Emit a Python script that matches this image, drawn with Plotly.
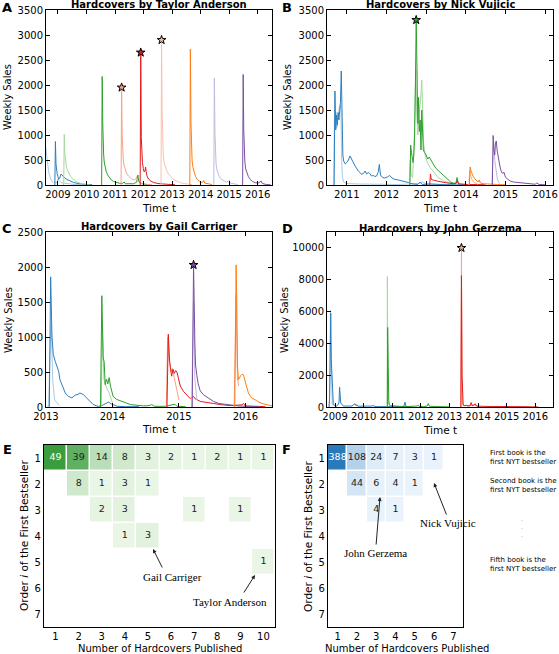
import plotly.graph_objects as go

W, H = 559, 654

# ---------------- Panel A: Taylor Anderson (time, weekly sales) ----------------
A_b1 = [(2008.50,0),(2008.52,1100),(2008.55,850),(2008.58,680),(2008.61,520),(2008.64,380),(2008.67,280),(2008.70,200),(2008.73,140),(2008.76,100),(2008.80,70),(2008.84,50),(2008.88,60),(2008.92,40),(2008.96,50),(2009.00,120),(2009.03,90),(2009.08,60),(2009.15,40),(2009.25,30),(2009.40,20),(2009.60,10),(2009.80,5)]
A_b2 = [(2008.89,0),(2008.91,870),(2008.93,420),(2008.95,280),(2008.97,230),(2009.00,170),(2009.02,110),(2009.05,130),(2009.08,180),(2009.11,220),(2009.14,200),(2009.18,170),(2009.24,140),(2009.32,110),(2009.42,80),(2009.55,50),(2009.70,30),(2009.85,15),(2010.00,8),(2010.20,5)]
A_b3 = [(2009.20,0),(2009.22,1010),(2009.24,620),(2009.26,470),(2009.29,380),(2009.33,300),(2009.38,230),(2009.44,170),(2009.50,130),(2009.58,90),(2009.66,60),(2009.76,40),(2009.88,20),(2010.00,10),(2010.10,5)]
A_b4 = [(2010.53,0),(2010.55,2170),(2010.57,1200),(2010.58,800),(2010.60,620),(2010.62,460),(2010.65,350),(2010.69,270),(2010.74,200),(2010.80,140),(2010.87,100),(2010.95,70),(2011.05,50),(2011.15,35),(2011.25,30),(2011.32,60),(2011.36,25),(2011.50,20),(2011.65,25),(2011.76,60),(2011.80,200),(2011.83,80),(2011.90,30),(2012.05,15),(2012.20,5)]
A_b5 = [(2011.21,0),(2011.23,1950),(2011.25,1000),(2011.27,650),(2011.29,480),(2011.32,380),(2011.36,300),(2011.41,230),(2011.47,180),(2011.54,140),(2011.61,110),(2011.68,100),(2011.73,130),(2011.76,170),(2011.79,90),(2011.86,50),(2011.95,30),(2012.10,15),(2012.30,5)]
A_b6 = [(2011.88,0),(2011.90,2650),(2011.92,950),(2011.94,620),(2011.96,450),(2011.99,330),(2012.02,260),(2012.05,280),(2012.07,360),(2012.09,270),(2012.12,180),(2012.17,120),(2012.25,80),(2012.35,50),(2012.50,30),(2012.70,20),(2012.90,10),(2013.10,5)]
A_b7 = [(2012.61,0),(2012.63,2900),(2012.65,1450),(2012.67,850),(2012.69,600),(2012.72,450),(2012.76,360),(2012.81,290),(2012.87,220),(2012.94,170),(2013.02,130),(2013.10,95),(2013.20,65),(2013.30,45),(2013.42,30),(2013.55,15),(2013.70,5)]
A_b8 = [(2013.62,0),(2013.64,2720),(2013.66,1250),(2013.68,700),(2013.70,480),(2013.73,350),(2013.77,250),(2013.82,170),(2013.88,110),(2013.95,70),(2014.02,50),(2014.08,60),(2014.11,90),(2014.14,40),(2014.25,20),(2014.40,8)]
A_b9 = [(2014.46,0),(2014.48,2140),(2014.50,1050),(2014.52,620),(2014.54,420),(2014.57,300),(2014.61,220),(2014.66,160),(2014.73,110),(2014.82,80),(2014.90,60),(2014.97,70),(2015.00,90),(2015.03,40),(2015.15,20),(2015.30,8)]
A_b10 = [(2015.47,0),(2015.49,2210),(2015.51,1100),(2015.53,650),(2015.55,450),(2015.58,320),(2015.62,230),(2015.67,170),(2015.74,110),(2015.82,70),(2015.92,45),(2016.02,40),(2016.08,60),(2016.12,80),(2016.16,30),(2016.30,10),(2016.45,5)]
A_star_books = [5, 6, 7]

# ---------------- Panel B: Nick Vujicic ----------------
B_b1p = [(2010.67,0),(2010.69,1500),(2010.71,1350),(2010.73,1450),(2010.75,1150),(2010.77,1300),(2010.80,1500),(2010.83,1600),(2010.85,1500),(2010.87,500),(2010.89,150),(2010.92,60),(2011.00,30),(2011.30,20),(2011.80,15),(2012.30,10),(2012.80,30),(2012.90,60),(2013.00,20),(2013.30,10),(2013.60,5)]
B_b1 = [(2010.68,0),(2010.70,1880),(2010.72,1100),(2010.74,1400),(2010.76,1200),(2010.78,1450),(2010.80,1300),(2010.82,1500),(2010.84,1650),(2010.86,2280),(2010.88,1200),(2010.90,600),(2010.92,480),(2010.96,420),(2011.00,450),(2011.04,500),(2011.08,580),(2011.12,500),(2011.17,440),(2011.21,380),(2011.25,320),(2011.29,280),(2011.33,250),(2011.37,213),(2011.42,230),(2011.46,280),(2011.50,220),(2011.54,250),(2011.58,230),(2011.62,180),(2011.67,190),(2011.71,170),(2011.75,180),(2011.79,250),(2011.82,410),(2011.85,200),(2011.90,150),(2011.96,140),(2012.02,160),(2012.08,190),(2012.14,140),(2012.21,113),(2012.30,100),(2012.40,80),(2012.46,80),(2012.55,50),(2012.62,27),(2012.70,15),(2012.79,10),(2012.85,60),(2012.90,10),(2013.10,20),(2013.30,10),(2013.50,5),(2013.80,5),(2014.00,10)]
B_b2p = [(2012.58,0),(2012.60,500),(2012.62,200),(2012.66,150),(2012.70,900),(2012.72,1430),(2012.74,2300),(2012.76,1500),(2012.79,1000),(2012.82,1400),(2012.86,1700),(2012.89,2100),(2012.91,1300),(2012.94,800),(2012.98,600),(2013.03,450),(2013.10,350),(2013.20,250),(2013.30,150),(2013.45,80),(2013.60,40),(2013.80,20)]
B_b2 = [(2012.59,0),(2012.61,800),(2012.63,650),(2012.65,500),(2012.67,450),(2012.69,600),(2012.71,1000),(2012.73,2000),(2012.75,3300),(2012.77,2300),(2012.79,1230),(2012.81,1750),(2012.83,1070),(2012.85,1300),(2012.87,700),(2012.89,1500),(2012.91,1100),(2012.93,700),(2012.96,650),(2013.00,600),(2013.04,520),(2013.08,560),(2013.12,500),(2013.17,420),(2013.21,380),(2013.25,330),(2013.29,300),(2013.33,280),(2013.37,250),(2013.42,220),(2013.46,180),(2013.50,150),(2013.54,110),(2013.58,90),(2013.62,60),(2013.68,40),(2013.75,30),(2013.78,150),(2013.80,40),(2013.85,10)]
B_b3 = [(2013.09,0),(2013.11,220),(2013.13,110),(2013.17,95),(2013.22,90),(2013.30,75),(2013.40,55),(2013.50,45),(2013.60,35),(2013.70,25),(2013.76,40),(2013.79,90),(2013.82,25),(2013.90,15),(2014.05,10),(2014.30,8),(2014.50,5)]
B_b4p = [(2014.08,0),(2014.10,300),(2014.12,200),(2014.15,120),(2014.20,60),(2014.30,20)]
B_b4 = [(2014.09,0),(2014.11,360),(2014.13,290),(2014.15,230),(2014.18,180),(2014.22,130),(2014.27,90),(2014.31,60),(2014.34,100),(2014.37,40),(2014.45,25),(2014.60,15),(2014.80,10),(2015.00,5)]
B_b5p = [(2014.66,0),(2014.68,750),(2014.70,850),(2014.73,500),(2014.76,300),(2014.80,100),(2014.85,30)]
B_b5 = [(2014.67,0),(2014.69,990),(2014.71,700),(2014.73,600),(2014.75,850),(2014.77,880),(2014.79,700),(2014.81,580),(2014.84,450),(2014.86,380),(2014.90,260),(2014.93,230),(2014.96,260),(2015.00,160),(2015.05,120),(2015.12,80),(2015.20,60),(2015.30,50),(2015.45,40),(2015.60,25),(2015.75,15),(2015.79,40),(2015.85,10),(2016.00,5)]
B_star_book = "B_b2"

# ---------------- Panel C: Gail Carriger ----------------
C_b1p = [(2013.03,0),(2013.04,50),(2013.06,800),(2013.08,1200),(2013.10,400),(2013.13,100),(2013.20,20)]
C_b1 = [(2013.05,0),(2013.07,1860),(2013.09,1000),(2013.11,750),(2013.14,650),(2013.16,600),(2013.19,510),(2013.21,390),(2013.24,320),(2013.26,250),(2013.29,200),(2013.34,150),(2013.39,130),(2013.44,170),(2013.48,180),(2013.51,200),(2013.56,180),(2013.61,130),(2013.66,80),(2013.71,35),(2013.76,15),(2013.79,10),(2013.84,20),(2013.90,50),(2013.94,70),(2013.99,40),(2014.07,10),(2014.20,5),(2014.40,5)]
C_b2p = [(2013.83,0),(2013.85,1130),(2013.87,400),(2013.90,300),(2013.95,200),(2014.00,60)]
C_b2 = [(2013.82,0),(2013.84,1590),(2013.86,700),(2013.875,650),(2013.89,320),(2013.91,400),(2013.93,330),(2013.95,420),(2013.97,300),(2013.99,220),(2014.01,150),(2014.06,110),(2014.14,80),(2014.19,70),(2014.27,35),(2014.37,25),(2014.47,15),(2014.55,20),(2014.59,35),(2014.63,10),(2014.80,10),(2014.94,40),(2014.97,10),(2015.10,5)]
C_b3p = [(2014.81,0),(2014.83,1000),(2014.85,700),(2014.88,500),(2014.90,550),(2014.93,400),(2014.97,250),(2015.00,100)]
C_b3 = [(2014.82,0),(2014.84,1040),(2014.86,650),(2014.87,560),(2014.89,440),(2014.91,540),(2014.93,480),(2014.95,520),(2014.97,500),(2014.99,420),(2015.02,300),(2015.07,220),(2015.12,170),(2015.17,120),(2015.22,150),(2015.24,120),(2015.32,80),(2015.42,60),(2015.52,50),(2015.62,35),(2015.77,20),(2015.95,30),(2015.97,50),(2016.00,15),(2016.10,10),(2016.30,5)]
C_b4p = [(2015.19,0),(2015.205,900),(2015.22,1500),(2015.24,400),(2015.27,100)]
C_b4 = [(2015.20,0),(2015.22,2030),(2015.24,900),(2015.25,600),(2015.27,450),(2015.29,330),(2015.32,230),(2015.37,175),(2015.44,130),(2015.52,80),(2015.60,50),(2015.75,30),(2015.90,15),(2016.00,10),(2016.20,5)]
C_b5p = [(2015.83,0),(2015.85,1200),(2015.86,1600),(2015.87,1000),(2015.88,400),(2015.90,300)]
C_b5 = [(2015.84,0),(2015.86,2030),(2015.87,1500),(2015.88,600),(2015.895,390),(2015.91,420),(2015.93,450),(2015.95,470),(2015.97,460),(2015.995,370),(2016.02,280),(2016.045,200),(2016.07,160),(2016.095,130),(2016.17,90),(2016.22,60),(2016.27,45),(2016.32,35),(2016.37,20),(2016.40,15)]
C_star_book = "C_b4"

# ---------------- Panel D: John Gerzema ----------------
D_b1p = [(2008.80,0),(2008.82,1500),(2008.84,6100),(2008.86,3000),(2008.88,800),(2008.90,200),(2008.95,50)]
D_b1 = [(2008.79,0),(2008.81,500),(2008.83,3000),(2008.85,5900),(2008.86,4000),(2008.87,2970),(2008.89,1900),(2008.90,1730),(2008.92,700),(2008.94,200),(2008.99,80),(2009.05,60),(2009.11,150),(2009.14,300),(2009.16,1250),(2009.18,400),(2009.20,250),(2009.29,60),(2009.45,40),(2009.60,60),(2009.64,150),(2009.70,200),(2009.74,80),(2009.76,150),(2009.80,50),(2010.05,40),(2010.30,60),(2010.34,120),(2010.37,40),(2010.50,20),(2010.80,10),(2011.00,20),(2011.40,30),(2011.45,300),(2011.48,30),(2011.70,10)]
D_b2p = [(2010.82,0),(2010.83,8200),(2010.85,1000),(2010.87,200),(2010.92,50)]
D_b2 = [(2010.83,0),(2010.84,5000),(2010.86,2500),(2010.88,400),(2010.90,150),(2010.95,80),(2011.10,50),(2011.30,40),(2011.50,30),(2011.70,40),(2011.88,60),(2011.91,120),(2011.94,40),(2012.10,30),(2012.22,60),(2012.26,220),(2012.30,50),(2012.50,30),(2012.80,20),(2013.00,10)]
D_b3p = [(2013.40,0),(2013.41,3000),(2013.42,10000),(2013.44,1000),(2013.46,200),(2013.50,100),(2013.70,80),(2013.90,150),(2014.00,40)]
D_b3 = [(2013.40,0),(2013.42,8260),(2013.44,2000),(2013.46,300),(2013.48,120),(2013.52,80),(2013.60,100),(2013.65,60),(2013.72,80),(2013.76,280),(2013.80,80),(2013.86,120),(2013.90,200),(2013.94,60),(2014.00,50),(2014.20,40),(2014.50,30),(2014.80,40),(2015.00,30),(2015.30,20),(2015.60,20),(2015.90,10),(2016.10,5)]
D_star_book = "D_b3p"

# ---------------- Panels E/F: heatmaps (rows: order i, cols: hardcovers n) ----------------
E_n = [1, 2, 3, 4, 5, 6, 7, 8, 9, 10]
E_i = [1, 2, 3, 4, 5, 6, 7]
E_z = [
    [49, 39, 14, 8, 3, 2, 1, 2, 1, 1],
    [None, 8, 1, 3, 1, None, None, None, None, None],
    [None, None, 2, 3, None, None, 1, None, 1, None],
    [None, None, None, 1, 3, None, None, None, None, None],
    [None, None, None, None, None, None, None, None, None, 1],
    [None] * 10,
    [None] * 10,
]
F_n = [1, 2, 3, 4, 5, 6, 7]
F_i = [1, 2, 3, 4, 5, 6, 7]
F_z = [
    [388, 108, 24, 7, 3, 1, None],
    [None, 44, 6, 4, 1, None, None],
    [None, None, 4, 1, None, None, None],
    [None] * 7,
    [None] * 7,
    [None] * 7,
    [None] * 7,
]
F_side = ["First book is the<br>first NYT bestseller",
          "Second book is the<br>first NYT bestseller",
          "Fifth book is the<br>first NYT bestseller"]

# ---------------- styles ----------------
LBLUE, BLUE = '#a9cbe6', '#2e7ebc'
LGREEN, GREEN = '#a6d99c', '#2ca02c'
LSAL, SAL, RED = '#fbc0ad', '#f7a386', '#e41a1c'
LORANGE, ORANGE = '#fdb383', '#fd7e14'
LPURPLE, PURPLE = '#bcbddc', '#7a4ea3'

def px(x):
    return x / W

def py(y):
    return 1 - y / H

FONT = "DejaVu Sans"
fig = go.Figure()

panels = {
    'A': dict(ax='', series=[('A_b1', A_b1, LBLUE), ('A_b2', A_b2, BLUE), ('A_b3', A_b3, LGREEN), ('A_b4', A_b4, GREEN),
                             ('A_b5', A_b5, SAL), ('A_b6', A_b6, RED), ('A_b7', A_b7, LSAL), ('A_b8', A_b8, ORANGE),
                             ('A_b9', A_b9, LPURPLE), ('A_b10', A_b10, PURPLE)],
              stars=['A_b%d' % k for k in A_star_books]),
    'B': dict(ax='2', series=[('B_b1p', B_b1p, LBLUE), ('B_b1', B_b1, BLUE), ('B_b2p', B_b2p, LGREEN), ('B_b2', B_b2, GREEN),
                              ('B_b3', B_b3, RED), ('B_b4p', B_b4p, LORANGE), ('B_b4', B_b4, ORANGE),
                              ('B_b5p', B_b5p, LPURPLE), ('B_b5', B_b5, PURPLE)],
              stars=[B_star_book]),
    'C': dict(ax='3', series=[('C_b1p', C_b1p, LBLUE), ('C_b1', C_b1, BLUE), ('C_b2p', C_b2p, LGREEN), ('C_b2', C_b2, GREEN),
                              ('C_b3p', C_b3p, SAL), ('C_b3', C_b3, RED), ('C_b4p', C_b4p, LPURPLE), ('C_b4', C_b4, PURPLE),
                              ('C_b5p', C_b5p, SAL), ('C_b5', C_b5, ORANGE)],
              stars=[C_star_book]),
    'D': dict(ax='4', series=[('D_b1p', D_b1p, LBLUE), ('D_b1', D_b1, BLUE), ('D_b2p', D_b2p, LGREEN), ('D_b2', D_b2, GREEN),
                              ('D_b3p', D_b3p, SAL), ('D_b3', D_b3, RED)],
              stars=[D_star_book]),
}

for key, p in panels.items():
    lookup = {}
    for name, s, col in p['series']:
        lookup[name] = (s, col)
        fig.add_trace(go.Scatter(x=[q[0] for q in s], y=[q[1] for q in s], mode='lines',
                                 line=dict(color=col, width=1), hoverinfo='skip', showlegend=False,
                                 xaxis='x' + p['ax'], yaxis='y' + p['ax']))
    for name in p['stars']:
        s, col = lookup[name]
        peak = max(s, key=lambda q: q[1])
        fig.add_trace(go.Scatter(x=[peak[0]], y=[peak[1]], mode='markers',
                                 marker=dict(symbol='star', size=6.5, color=col, line=dict(color='black', width=1)),
                                 hoverinfo='skip', showlegend=False, xaxis='x' + p['ax'], yaxis='y' + p['ax']))

# heatmaps
def add_heat(z, xs, ys, ax, cs, zmax):
    fig.add_trace(go.Heatmap(z=z, x=xs, y=ys, colorscale=cs, zmin=0, zmax=zmax, showscale=False,
                             xgap=1.5, ygap=1.5, hoverinfo='skip', xaxis='x' + ax, yaxis='y' + ax))
    tx, ty, tt, tc = [], [], [], []
    for r, row in enumerate(z):
        for c, v in enumerate(row):
            if v is not None:
                tx.append(xs[c]); ty.append(ys[r]); tt.append(str(v))
                tc.append('white' if v == zmax else '#222222')
    fig.add_trace(go.Scatter(x=tx, y=ty, text=tt, mode='text', textfont=dict(color=tc, size=9.5, family=FONT),
                             hoverinfo='skip', showlegend=False, xaxis='x' + ax, yaxis='y' + ax))

add_heat(E_z, E_n, E_i, '5', [[0, '#edf8e9'], [1, '#3a9d3e']], 49)
add_heat(F_z, F_n, F_i, '6', [[0, '#eaf3fb'], [1, '#2a7ab9']], 388)

ts_axis = dict(ticks='inside', ticklen=4, tickwidth=1, tickcolor='black', mirror='ticks', showline=True,
               linecolor='black', linewidth=1, showgrid=False, zeroline=False, automargin=False,
               tickfont=dict(family=FONT, size=10, color='black'))
hm_axis = dict(ticks='', showline=True, mirror=True, linecolor='black', linewidth=1.2, showgrid=False,
               zeroline=False, automargin=False, tickfont=dict(family=FONT, size=10, color='black'))

xa_dom = [px(46), px(272)]
xb_dom = [px(327), px(553)]
ytop_dom = [py(185), py(10)]
ymid_dom = [py(407), py(232)]
ybot_dom = [py(627), py(445)]

fig.update_layout(
    width=W, height=H, margin=dict(l=0, r=0, t=0, b=0, pad=0, autoexpand=False),
    paper_bgcolor='white', plot_bgcolor='white', showlegend=False,
    xaxis=dict(ts_axis, domain=xa_dom, range=[2008.58, 2016.5], tickvals=list(range(2009, 2017)), anchor='y'),
    yaxis=dict(ts_axis, domain=ytop_dom, range=[0, 3500], tickvals=list(range(0, 3501, 500)), anchor='x'),
    xaxis2=dict(ts_axis, domain=xb_dom, range=[2010.5, 2016.2], tickvals=list(range(2011, 2017)), anchor='y2'),
    yaxis2=dict(ts_axis, domain=ytop_dom, range=[0, 3500], tickvals=list(range(0, 3501, 500)), anchor='x2'),
    xaxis3=dict(ts_axis, domain=xa_dom, range=[2013.0, 2016.4], tickvals=list(range(2013, 2017)), anchor='y3'),
    yaxis3=dict(ts_axis, domain=ymid_dom, range=[0, 2500], tickvals=list(range(0, 2501, 500)), anchor='x3'),
    xaxis4=dict(ts_axis, domain=xb_dom, range=[2008.72, 2016.62], tickvals=list(range(2009, 2017)), anchor='y4'),
    yaxis4=dict(ts_axis, domain=ymid_dom, range=[0, 11000], tickvals=list(range(0, 10001, 2000)),
                tickformat='d', anchor='x4'),
    xaxis5=dict(hm_axis, domain=[px(44), px(275)], range=[0.5, 10.5], tickvals=E_n, anchor='y5'),
    yaxis5=dict(hm_axis, domain=ybot_dom, range=[7.5, 0.5], tickvals=E_i, anchor='x5'),
    xaxis6=dict(hm_axis, domain=[px(328), px(463)], range=[0.5, 7.5], tickvals=F_n, anchor='y6'),
    yaxis6=dict(hm_axis, domain=ybot_dom, range=[7.5, 0.5], tickvals=F_i, anchor='x6'),
)

ann = []
def text(x, y, s, size=10.5, family=FONT, angle=0, xanchor='center', align='center', color='black'):
    ann.append(dict(x=px(x), y=py(y), xref='paper', yref='paper', text=s, showarrow=False, textangle=angle,
                    xanchor=xanchor, yanchor='middle', align=align,
                    font=dict(family=family, size=size, color=color)))

# panel letters
for lt, (x, y) in {'A': (7, 8), 'B': (287, 8), 'C': (7, 229), 'D': (287, 228), 'E': (7, 449), 'F': (286, 449)}.items():
    text(x, y, '<b>%s</b>' % lt, size=13)
# titles
text(159, 5, '<b>Hardcovers by Taylor Anderson</b>', size=10)
text(440, 5, '<b>Hardcovers by Nick Vujicic</b>', size=10)
text(159, 227, '<b>Hardcovers by Gail Carriger</b>', size=10)
text(440, 228, '<b>Hardcovers by John Gerzema</b>', size=10)
# axis labels
for (x, y) in [(8, 97), (288, 97), (8, 320), (284, 320)]:
    text(x, y, 'Weekly Sales', size=10, angle=-90)
for (x, y) in [(159, 208), (440, 208), (159, 429), (440, 430)]:
    text(x, y, 'Time t', size=10.5)
text(24, 536, 'Order <i>i</i> of the First Bestseller', size=10.5, angle=-90)
text(308, 536, 'Order <i>i</i> of the First Bestseller', size=10.5, angle=-90)
text(160, 648.5, 'Number of Hardcovers Published', size=10)
text(407, 648.5, 'Number of Hardcovers Published', size=10)
# side notes for F
text(488, 457, F_side[0], size=7, xanchor='left', align='left')
text(488, 485, F_side[1], size=7, xanchor='left', align='left')
text(488, 564, F_side[2], size=7, xanchor='left', align='left')
text(522, 526, '.<br>.<br>.', size=6, color='#888888')
# callouts
SERIF = "Liberation Serif"
text(173, 577, 'Gail Carriger', size=11, family=SERIF)
text(230, 602, 'Taylor Anderson', size=11, family=SERIF)
text(448, 523, 'Nick Vujicic', size=11, family=SERIF)
text(375, 553, 'John Gerzema', size=11, family=SERIF)
for (hx, hy, tx, ty) in [(153, 549, 163, 569), (255, 575, 243, 594), (434, 483, 447, 516), (380, 497, 376, 546)]:
    ann.append(dict(x=px(hx), y=py(hy), xref='paper', yref='paper', ax=tx - hx, ay=ty - hy, text='',
                    showarrow=True, arrowhead=2, arrowsize=0.8, arrowwidth=1, arrowcolor='#222222'))

fig.update_layout(annotations=ann)
fig.write_html("out.html", config={'displayModeBar': False},
               post_script="document.body.style.margin='0';")
